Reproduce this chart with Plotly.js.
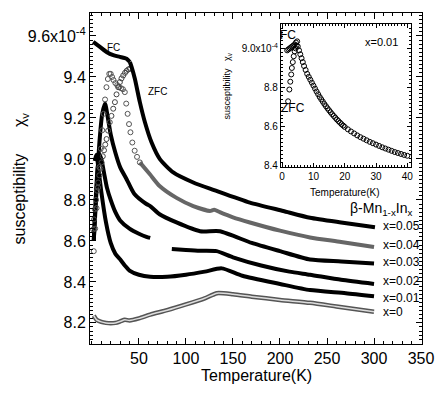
<!DOCTYPE html>
<html>
<head>
<meta charset="utf-8">
<script src="https://cdn.plot.ly/plotly-3.0.1.min.js"></script>
<style>
  html, body { margin: 0; padding: 0; background: #fff; }
  #chart { width: 443px; height: 396px; }
</style>
</head>
<body>
<div id="chart"></div>
<script>
// Susceptibility (units of 1e-4) vs temperature

// x = 0.05 : field cooled branch, zero field cooled branch, common tail
let t05fc = [1.4, 8.5, 15.6, 22.7, 29.8, 36.9, 40.4];
let c05fc = [9.571, 9.547, 9.522, 9.506, 9.498, 9.489, 9.473];
let t05zfc = [1.4, 2.3, 3.2, 4.4, 5.6, 6.7, 7.9, 9.1, 10.3, 11.6, 12.9, 14.2, 15.6, 17.3, 19, 20.8,
  22.7, 24.5, 26.2, 28, 29.8, 31.5, 33.3, 35.2, 37, 38.8, 40.4];
let c05zfc = [8.656, 8.705, 8.754, 8.8, 8.845, 8.885, 8.92, 8.952, 8.983, 9.013, 9.042, 9.07, 9.097, 9.138, 9.179, 9.21,
  9.245, 9.277, 9.315, 9.35, 9.375, 9.393, 9.407, 9.42, 9.43, 9.437, 9.44];
let t05 = [40.4, 42.2, 45.7, 51, 56.4, 63.5, 72.3, 86.5, 107.8, 130, 168, 203.5, 232, 265, 301];
let c05 = [9.473, 9.449, 9.391, 9.277, 9.179, 9.08, 8.999, 8.934, 8.885, 8.848, 8.787, 8.746, 8.713, 8.69, 8.667];

// x = 0.04 : open circles below 51 K, dense grey trace above
let t04low = [2, 3.5, 5, 6.5, 8, 9.5, 11, 12.5, 14, 15.5, 17, 18.5, 20, 21.5, 23, 25, 27, 29, 31, 33, 35,
  36.5, 38, 39.5, 41, 43, 45.5, 48, 51];
let c04low = [8.55, 8.66, 8.76, 8.86, 8.96, 9.05, 9.14, 9.22, 9.29, 9.35, 9.39, 9.415, 9.415, 9.4, 9.385, 9.37, 9.36, 9.35, 9.345, 9.34, 9.326,
  9.27, 9.22, 9.17, 9.13, 9.08, 9.04, 9.01, 8.983];
let t04 = [51, 61.7, 72, 90, 107.8, 125.5, 130, 136, 150, 168, 200, 232, 265, 300];
let c04 = [8.983, 8.925, 8.868, 8.81, 8.77, 8.746, 8.752, 8.74, 8.715, 8.69, 8.65, 8.617, 8.595, 8.57];

// x = 0.03
let t03 = [2, 5, 8, 11, 14, 17, 20, 25, 30, 36.9, 45, 58, 62, 72, 90, 115, 136, 170, 200, 232, 265, 300];
let c03 = [8.6, 8.85, 9.08, 9.22, 9.27, 9.2, 9.12, 9.03, 8.96, 8.901, 8.83, 8.78, 8.77, 8.73, 8.69, 8.647, 8.647, 8.59, 8.55, 8.509, 8.5, 8.49];

// x = 0.02 (measured in two runs, gap between them)
let t02a = [2, 4, 6, 8, 10, 13, 16, 20, 25, 30, 40, 50, 58, 62];
let c02a = [8.6, 8.8, 8.95, 9.02, 9.0, 8.93, 8.86, 8.8, 8.74, 8.7, 8.66, 8.635, 8.62, 8.615];
let t02b = [85, 100, 115, 132.6, 150, 180, 210, 232, 265, 300];
let c02b = [8.561, 8.556, 8.552, 8.55, 8.52, 8.48, 8.45, 8.435, 8.41, 8.39];

// x = 0.01
let t01 = [3, 5, 7, 10, 15, 20, 25, 30, 35, 40, 50, 62, 80, 100, 120, 138, 160, 200, 232, 270, 300];
let c01 = [8.99, 9.02, 8.95, 8.84, 8.69, 8.59, 8.537, 8.51, 8.48, 8.455, 8.435, 8.425, 8.425, 8.435, 8.45, 8.466, 8.43, 8.39, 8.36, 8.345, 8.33];

// x = 0
let t00 = [2, 5, 10, 15, 20, 25, 30, 35, 40, 50, 62, 80, 100, 120, 133, 150, 170, 200, 232, 260, 300];
let c00 = [8.235, 8.215, 8.205, 8.2, 8.198, 8.2, 8.207, 8.215, 8.212, 8.222, 8.24, 8.262, 8.29, 8.32, 8.345, 8.34, 8.328, 8.312, 8.298, 8.28, 8.254];

// inset, x = 0.01 at low temperature
let tinFc = [1.6, 2.0, 2.4, 2.8, 3.2, 3.6, 4.0, 4.4, 4.8];
let cinFc = [8.99, 8.995, 9.0, 9.005, 9.01, 9.015, 9.02, 9.03, 9.036];
let tinZfc = [1.9, 2.3, 2.6, 2.9, 3.1, 3.4, 3.7, 4.0, 4.3, 4.6, 5.0, 5.4, 5.8, 6.2, 6.6, 7.0, 7.5, 8.0, 8.5, 9.0, 9.5,
  10, 10.5, 11, 11.5, 12, 12.5, 13, 13.5, 14, 14.5, 15, 15.5, 16, 16.5, 17, 17.5, 18, 18.5, 19, 19.5, 20,
  21, 22, 23, 24, 25, 26, 27, 28, 29, 30, 31, 32, 33, 34, 35, 36, 37, 38, 39, 40];
let cinZfc = [8.73, 8.79, 8.83, 8.867, 8.9, 8.93, 8.96, 8.985, 9.0, 9.015, 9.01, 8.99, 8.97, 8.95, 8.93, 8.91, 8.89, 8.87, 8.855, 8.84, 8.825,
  8.81, 8.795, 8.78, 8.766, 8.752, 8.74, 8.728, 8.716, 8.705, 8.694, 8.684, 8.674, 8.664, 8.655, 8.646, 8.637, 8.629, 8.621, 8.613, 8.606, 8.599,
  8.587, 8.576, 8.566, 8.556, 8.547, 8.539, 8.531, 8.523, 8.516, 8.509, 8.502, 8.495, 8.489, 8.483, 8.477, 8.471, 8.466, 8.461, 8.456, 8.452];

// tick labels
let mainYTicks = [8.2, 8.4, 8.6, 8.8, 9.0, 9.2, 9.4, 9.6];
let mainYText = ["8.2", "8.4", "8.6", "8.8", "9.0", "9.2", "9.4", "9.6x10<sup>-4</sup>"];
let mainXTicks = [50, 100, 150, 200, 250, 300, 350];
let insetYTicks = [8.4, 8.6, 8.8, 9.0];
let insetYText = ["8.4", "8.6", "8.8", "9.0x10<sup>-4</sup>"];
let insetXTicks = [0, 10, 20, 30, 40];

// curve labels
let seriesNames = ["x=0.05", "x=0.04", "x=0.03", "x=0.02", "x=0.01", "x=0"];
let labelY = [8.675, 8.58, 8.495, 8.405, 8.322, 8.253];

const FONT = "Liberation Sans, Arial, sans-serif";

function lineTrace(x, y, color, width, axes) {
  return {
    x: x, y: y, mode: "lines", hoverinfo: "skip",
    line: { color: color, width: width, shape: "spline", smoothing: 0.6 },
    xaxis: axes ? "x2" : "x", yaxis: axes ? "y2" : "y"
  };
}

function circleTrace(x, y, color, size, axes) {
  return {
    x: x, y: y, mode: "markers", hoverinfo: "skip",
    marker: { symbol: "circle-open", size: size, color: color, line: { width: 1, color: color } },
    xaxis: axes ? "x2" : "x", yaxis: axes ? "y2" : "y"
  };
}

function buildTraces() {
  let traces = [];
  // x = 0 drawn as a hollow grey band
  traces.push(lineTrace(t00, c00, "#555", 4.5));
  traces.push(lineTrace(t00, c00, "#ddd", 1.5));
  traces.push(lineTrace(t01, c01, "#000", 4));
  traces.push(lineTrace(t02a, c02a, "#000", 4));
  traces.push(lineTrace(t02b, c02b, "#000", 4));
  traces.push(lineTrace(t03, c03, "#000", 4));
  traces.push(lineTrace(t04, c04, "#666", 4));
  traces.push(circleTrace(t04low, c04low, "#555", 5));
  traces.push(circleTrace(t05zfc, c05zfc, "#444", 5));
  traces.push(lineTrace(t05fc, c05fc, "#000", 4));
  traces.push(lineTrace(t05, c05, "#000", 4));
  // inset
  traces.push(circleTrace(tinZfc, cinZfc, "#000", 5, true));
  traces.push(circleTrace(tinFc, cinFc, "#000", 5, true));
  return traces;
}

// text placed in paper coordinates, centred on the given point
function label(x, y, text, size, extra) {
  return Object.assign({
    x: x, y: y, xref: "paper", yref: "paper", text: text, showarrow: false,
    xanchor: "center", yanchor: "middle", font: { family: FONT, size: size, color: "#000" }
  }, extra || {});
}

function buildAnnotations() {
  let ann = [];
  for (let i = 0; i < seriesNames.length; i++) {
    ann.push({
      x: 307, y: labelY[i], xref: "x", yref: "y", text: seriesNames[i],
      showarrow: false, xanchor: "left", yanchor: "middle",
      font: { family: FONT, size: 12, color: "#000" }
    });
  }
  ann.push(label(0.877, 0.408, "β-Mn<sub>1-x</sub>In<sub>x</sub>", 14));
  ann.push(label(0.072, 0.897, "FC", 10));
  ann.push(label(0.202, 0.762, "ZFC", 10));
  // axis titles
  ann.push(label(-0.208, 0.50, "susceptibility      χ<sub>v</sub>", 16, { textangle: -90 }));
  ann.push(label(0.502, -0.094, "Temperature(K)", 16));
  // inset labels
  ann.push(label(0.595, 0.933, "FC", 12));
  ann.push(label(0.612, 0.714, "ZFC", 12));
  ann.push(label(0.878, 0.913, "x=0.01", 11));
  ann.push(label(0.768, 0.459, "Temperature(K)", 10));
  ann.push(label(0.415, 0.78, "susceptibility   χ<sub>v</sub>", 9, { textangle: -90 }));
  return ann;
}

function axisStyle(extra) {
  let base = {
    showline: true, linecolor: "#000", linewidth: 1, mirror: "ticks",
    ticks: "inside", ticklen: 6, tickcolor: "#000", showgrid: false, zeroline: false,
    fixedrange: true
  };
  return Object.assign(base, extra);
}

function init() {
  let layout = {
    width: 443, height: 396,
    margin: { l: 90, r: 21, t: 13, b: 52 },
    paper_bgcolor: "#fff", plot_bgcolor: "#fff",
    showlegend: false,
    font: { family: FONT, size: 16, color: "#000" },
    xaxis: axisStyle({
      range: [-2, 351], tickvals: mainXTicks,
      minor: { dtick: 10, tick0: 0, ticks: "inside", ticklen: 3, tickcolor: "#000" },
      tickfont: { family: FONT, size: 16 }
    }),
    yaxis: axisStyle({
      range: [8.097, 9.712], tickvals: mainYTicks, ticktext: mainYText,
      minor: { dtick: 0.02, tick0: 8, ticks: "inside", ticklen: 3, tickcolor: "#000" },
      tickfont: { family: FONT, size: 16 }
    }),
    xaxis2: axisStyle({
      domain: [0.575, 0.967], anchor: "y2", range: [-0.4, 41.2], tickvals: insetXTicks,
      ticklen: 4,
      minor: { dtick: 1, tick0: 0, ticks: "inside", ticklen: 2, tickcolor: "#000" },
      tickfont: { family: FONT, size: 10 }
    }),
    yaxis2: axisStyle({
      domain: [0.535, 0.967], anchor: "x2", range: [8.395, 9.125],
      tickvals: insetYTicks, ticktext: insetYText, ticklen: 4,
      minor: { dtick: 0.02, tick0: 8, ticks: "inside", ticklen: 2, tickcolor: "#000" },
      tickfont: { family: FONT, size: 10 }
    }),
    annotations: buildAnnotations()
  };
  Plotly.newPlot("chart", buildTraces(), layout, { staticPlot: true, displayModeBar: false });
}

window.onload = init;
</script>
</body>
</html>
